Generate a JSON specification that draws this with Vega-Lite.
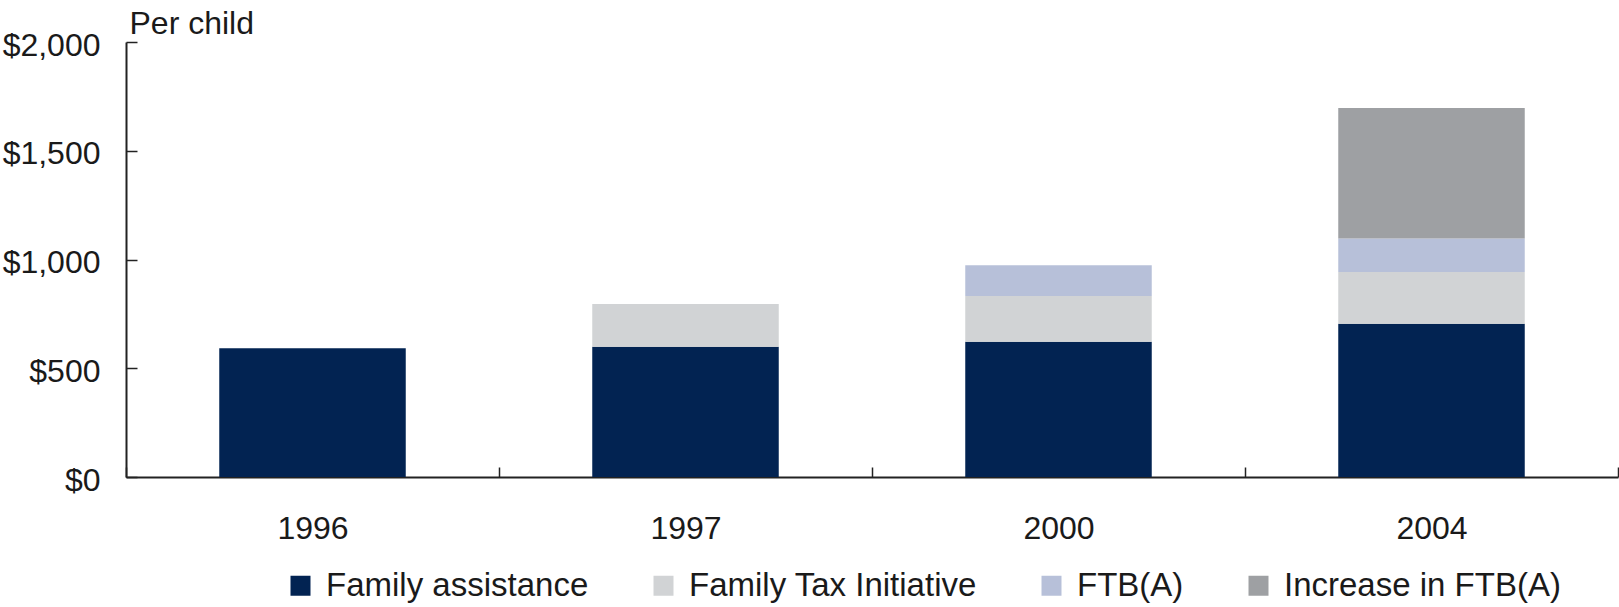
{
  "$schema": "https://vega.github.io/schema/vega-lite/v6.json",
  "width": 1492,
  "height": 435,
  "autosize": {"type": "none"},
  "padding": {"left": 126, "top": 42, "right": 1, "bottom": 130},
  "background": "white",
  "config": {
    "font": "Liberation Sans",
    "view": {"stroke": null}
  },
  "data": {
    "values": [
      {"year": "1996", "component": "Family assistance", "k": 1, "value": 592},
      {"year": "1997", "component": "Family assistance", "k": 1, "value": 599},
      {"year": "1997", "component": "Family Tax Initiative", "k": 2, "value": 196},
      {"year": "2000", "component": "Family assistance", "k": 1, "value": 622},
      {"year": "2000", "component": "Family Tax Initiative", "k": 2, "value": 210},
      {"year": "2000", "component": "FTB(A)", "k": 3, "value": 141},
      {"year": "2004", "component": "Family assistance", "k": 1, "value": 705},
      {"year": "2004", "component": "Family Tax Initiative", "k": 2, "value": 238},
      {"year": "2004", "component": "FTB(A)", "k": 3, "value": 154},
      {"year": "2004", "component": "Increase in FTB(A)", "k": 4, "value": 600}
    ]
  },
  "mark": {"type": "bar", "width": {"band": 0.5}},
  "encoding": {
    "x": {
      "field": "year",
      "type": "nominal",
      "sort": ["1996", "1997", "2000", "2004"],
      "scale": {"paddingInner": 0, "paddingOuter": 0},
      "axis": {
        "title": null,
        "labelAngle": 0,
        "labelFontSize": 32,
        "labelColor": "#1a1a1a",
        "labelBaseline": "top",
        "labelPadding": 46,
        "tickBand": "extent",
        "tickSize": -10,
        "tickWidth": 1.5,
        "tickColor": "#222222",
        "domainColor": "#222222",
        "domainWidth": 2
      }
    },
    "y": {
      "field": "value",
      "type": "quantitative",
      "stack": "zero",
      "scale": {"domain": [0, 2000], "nice": false},
      "axis": {
        "values": [0, 500, 1000, 1500, 2000],
        "format": "$,.0f",
        "grid": false,
        "title": "Per child",
        "titleAngle": 0,
        "titleAlign": "left",
        "titleBaseline": "alphabetic",
        "titleX": 3,
        "titleY": -9,
        "titleFontSize": 32,
        "titleFontWeight": "normal",
        "titleColor": "#1a1a1a",
        "labelFontSize": 32,
        "labelColor": "#1a1a1a",
        "labelPadding": 37,
        "labelOffset": 3,
        "tickSize": -11,
        "tickWidth": 1.5,
        "tickColor": "#222222",
        "domainColor": "#222222",
        "domainWidth": 2
      }
    },
    "color": {
      "field": "component",
      "type": "nominal",
      "scale": {
        "domain": ["Family assistance", "Family Tax Initiative", "FTB(A)", "Increase in FTB(A)"],
        "range": ["#022352", "#d1d3d5", "#b7c0d9", "#9ea0a3"]
      },
      "legend": {
        "title": null,
        "orient": "none",
        "direction": "horizontal",
        "legendX": 158,
        "legendY": 527,
        "symbolType": "square",
        "symbolSize": 400,
        "symbolStrokeWidth": 0,
        "labelFontSize": 33,
        "labelLimit": 0,
        "labelColor": "#1a1a1a",
        "labelOffset": 9,
        "columnPadding": 58,
        "padding": 0
      }
    },
    "order": {"field": "k", "type": "quantitative"}
  }
}
